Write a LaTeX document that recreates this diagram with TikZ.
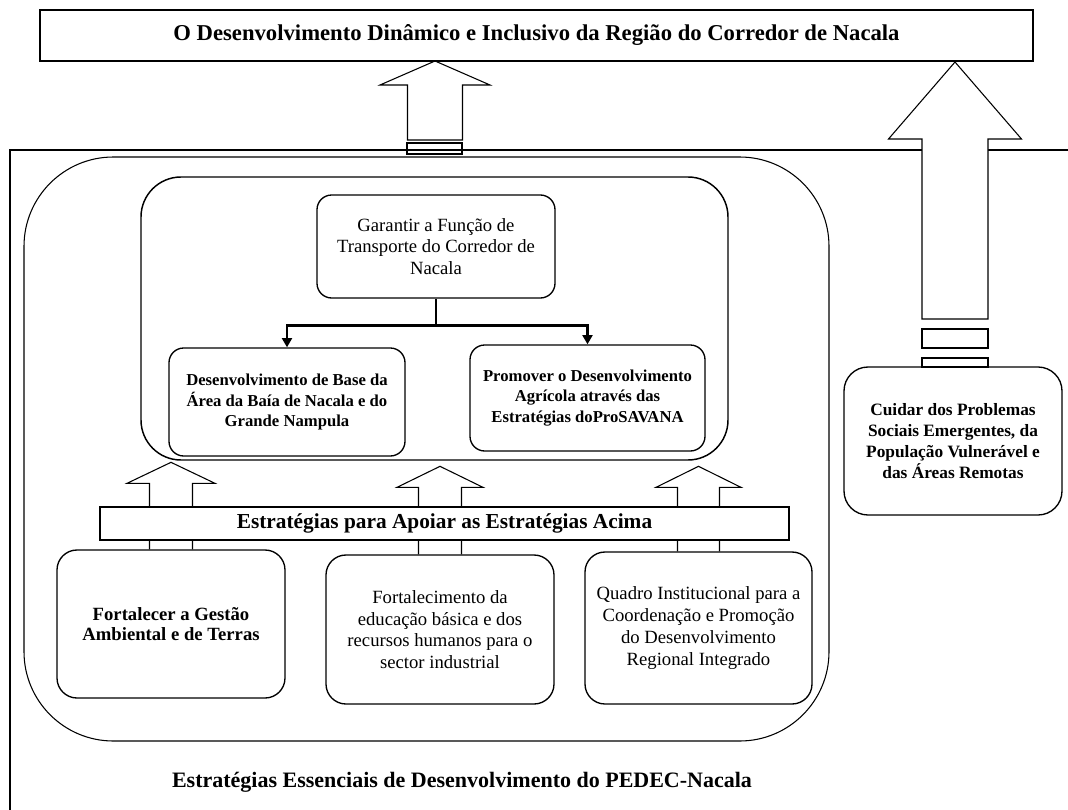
\documentclass[tikz,border=0pt]{standalone}
\usepackage{fontspec}
\setmainfont{Liberation Serif}
\usetikzlibrary{arrows.meta,calc,backgrounds}
\tikzset{
  card/.style={draw, line width=1pt, rounded corners=11pt, align=center, fill=white, inner sep=2pt, font=\fontsize{14}{16.3}\selectfont},
  boldcard/.style={card, font=\bfseries\fontsize{12.5}{15.5}\selectfont},
  hollow/.style={draw, line width=0.8pt, fill=white},
  link/.style={line width=2.2pt, -{Triangle[width=7.5pt,length=7pt]}},
  frame/.style={line width=2pt}
}
\newcommand{\liftarrow}[6][]{\draw[hollow] ($(#2)+(-#5,0)$) -- ++(0,-#3+#4) -- ++(-#6+#5,0) -- ($(#2)+(0,-#3)$) -- ($(#2)+(#6,-#3+#4)$) -- ++(-#6+#5,0) -- ($(#2)+(#5,0)$) #1;}
\begin{document}
\begin{tikzpicture}[x=0.75pt, y=-0.75pt, line join=miter]
\useasboundingbox (0,0) rectangle (1068,810);
\node[draw, line width=1.5pt, minimum width=744.75pt, minimum height=38.25pt, font=\bfseries\fontsize{17}{20}\selectfont] (goal) at (536.5,35.5) {O Desenvolvimento Dinâmico e Inclusivo da Região do Corredor de Nacala};
\draw[line width=0.8pt, rounded corners=67pt] (24,157) rectangle (829,741);
\draw[line width=1.1pt, rounded corners=30pt] (141,177) rectangle (728,460);
\node[card, minimum width=178.5pt, minimum height=77.25pt] (gft) at (436,246.5) {Garantir a Função de\\Transporte do Corredor de\\Nacala};
\node[boldcard, minimum width=177pt, minimum height=81pt] (base) at (287,402) {Desenvolvimento de Base da\\Área da Baía de Nacala e do\\Grande Nampula};
\node[boldcard, minimum width=176.25pt, minimum height=79.5pt] (agro) at (587.5,398) {Promover o Desenvolvimento\\Agrícola através das\\Estratégias doProSAVANA};
\coordinate (split) at ($(gft.south)+(0,27)$);
\draw[line width=2.2pt] (gft.south) -- (split);
\draw[link] (split) -| (base.north);
\draw[link] (split) -| (agro.north);
\node[boldcard, rounded corners=15pt, minimum width=171pt, minimum height=111pt, font=\bfseries\fontsize{14}{15.5}\selectfont] (land) at (171,624) {Fortalecer a Gestão\\Ambiental e de Terras};
\node[card, rounded corners=15pt, minimum width=171pt, minimum height=111.75pt] (educ) at (440,629.5) {Fortalecimento da\\educação básica e dos\\recursos humanos para o\\sector industrial};
\node[card, rounded corners=15pt, minimum width=170.25pt, minimum height=114pt] (inst) at (698.5,628) {Quadro Institucional para a\\Coordenação e Promoção\\do Desenvolvimento\\Regional Integrado};
\node[draw, line width=1pt, fill=white, minimum width=516.75pt, minimum height=24.75pt, font=\bfseries\fontsize{16}{18}\selectfont] (support) at (444.5,523.5) {Estratégias para Apoiar as Estratégias Acima};
\node[boldcard, rounded corners=18pt, minimum width=163.5pt, minimum height=111pt, font=\bfseries\fontsize{13}{15.75}\selectfont] (social) at (953,441) {Cuidar dos Problemas\\Sociais Emergentes, da\\População Vulnerável e\\das Áreas Remotas};
\node[font=\bfseries\fontsize{16.5}{19}\selectfont] (corelabel) at (462,782) {Estratégias Essenciais de Desenvolvimento do PEDEC-Nacala};
\draw[line width=0.8pt] (407,143) rectangle (462,154);
\draw[line width=0.8pt] (922,329) rectangle (988,348);
\draw[line width=0.8pt] (922,358) rectangle (988,367);
\begin{pgfonlayer}{background}
\draw[frame] (1068,150) -- (10,150) -- (10,810);
\liftarrow[-- cycle]{435,140}{79}{24}{27.5}{55}
\liftarrow[-- cycle]{955,319}{257}{77}{33}{66.5}
\liftarrow{land.north}{87}{21}{21.5}{44}
\liftarrow{educ.north}{88}{21}{21.5}{43}
\liftarrow{inst.north}{85}{21}{21}{42.5}
\end{pgfonlayer}
\end{tikzpicture}
\end{document}
